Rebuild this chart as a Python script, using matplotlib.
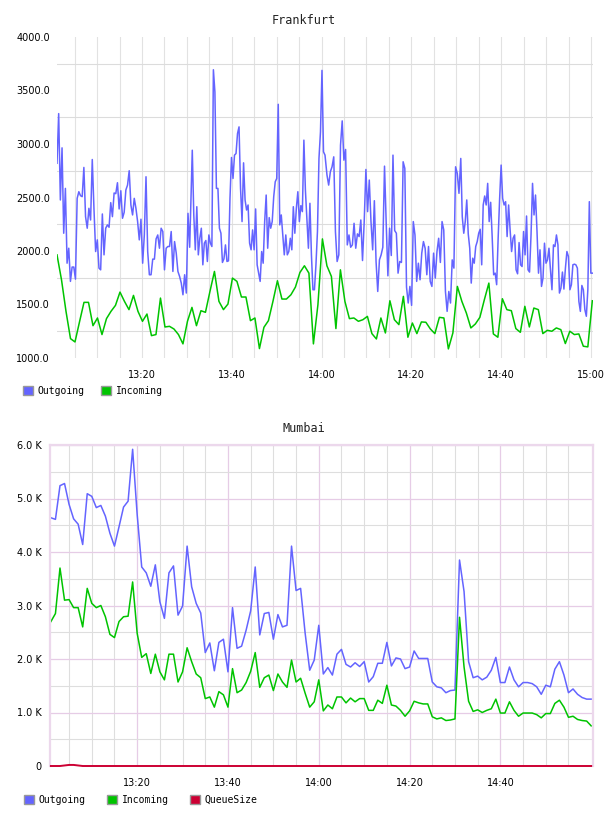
import numpy as np
import matplotlib.pyplot as plt
from matplotlib.patches import Patch
from matplotlib.ticker import FuncFormatter, FixedLocator

# ---- Frankfurt: minutes after 13:00 ----
# outgoing is sampled denser; stored as four half-hour blocks
fra_out_1 = [2820, 3284, 2477, 2964, 2166, 2585, 1886, 2026, 1716, 1850, 1850, 1737, 2492, 2554, 2517, 2508,
             2781, 2321, 2213, 2399, 2290, 2855, 2399, 1995, 2104, 1840, 1824, 2346, 1964, 2213, 2244, 2222,
             2452, 2321, 2542, 2536, 2638, 2393, 2563, 2306, 2362, 2570, 2616, 2750, 2430, 2337, 2492, 2399,
             2275, 2104, 2297, 1886, 2150, 2694, 1995, 1778, 1778, 1924, 1924, 2113, 2150, 2026, 2213, 2182,
             1824, 2026, 2042, 2042, 2182, 1809, 2088, 1980, 1809, 1762, 1700, 1591, 1778, 1607, 2352, 2035]
fra_out_2 = [2942, 2337, 2011, 2414, 1964, 2119, 2213, 1871, 2073, 2098, 1902, 2150, 2073, 2042, 3694, 3486,
             2585, 2585, 2213, 2166, 1893, 1927, 2057, 1902, 1908, 2492, 2874, 2678, 2896, 2911, 3098, 3160,
             2585, 2275, 2824, 2477, 2383, 2430, 2073, 2011, 2197, 2011, 2393, 1871, 1793, 1716, 1995, 1886,
             2275, 2523, 2026, 2312, 2213, 2275, 2508, 2647, 2678, 3371, 2244, 2337, 2150, 1964, 2150, 1964,
             1995, 2119, 2011, 2414, 2166, 2399, 2554, 2275, 2424, 2368, 3036, 2570, 2290, 2026, 2446, 1964,
             1638, 1638, 1871, 2182, 2865, 3113, 3688, 2927, 2896]
fra_out_3 = [2710, 2616, 2741, 2787, 2880, 2181, 1902, 1964, 2989, 3216, 2849, 2949, 2057, 2150, 2035, 2057,
             2259, 2026, 2160, 2135, 2290, 1911, 2275, 2762, 2368, 2663, 2275, 2011, 2470, 1902, 1622, 1917,
             1964, 2035, 2793, 2259, 1768, 2213, 1958, 2896, 2191, 2166, 1793, 1902, 1893, 2834, 2772, 1663,
             1514, 1669, 1492, 2275, 2150, 1716, 1886, 1731, 1980, 2088, 2026, 1778, 2042, 1716, 1669, 1980,
             1747, 1995, 2119, 1893, 2275, 2197, 1622, 1436, 1622, 1514, 1917, 1840, 2787, 2725, 2539]
fra_out_4 = [2865, 2321, 2166, 2275, 2477, 2160, 2026, 1700, 1933, 1886, 2042, 2088, 2166, 2203, 1871, 2430,
             2514, 2430, 2632, 2275, 2455, 2135, 1778, 1793, 1685, 2119, 2492, 2803, 2492, 2430, 2461, 2135,
             2430, 2197, 1995, 2119, 2150, 1824, 1787, 2079, 1871, 1855, 2182, 1964, 2327, 1824, 1803, 2150,
             2632, 2337, 2523, 2182, 1793, 2011, 1669, 1747, 2073, 1886, 1917, 2026, 1824, 1638, 2057, 2042,
             2150, 2057, 1607, 1653, 1803, 1644, 1840, 1995, 1949, 1638, 1685, 1871, 1877, 1871, 1840, 1529,
             1436, 1678, 1638, 1452, 1390, 1638, 2461, 1793, 1793]
fra_blocks = [(1.07, 30.62), (31.2, 60.76), (61.2, 90.6), (91.0, 120.3)]

fra_in = [1964, 1731, 1436, 1181, 1150, 1337, 1520, 1520, 1302, 1374, 1219, 1368, 1436, 1492, 1616,
          1529, 1452, 1585, 1436, 1343, 1411, 1209, 1219, 1560, 1290, 1296, 1271, 1219, 1132, 1343,
          1473, 1302, 1442, 1427, 1622, 1809, 1529, 1452, 1504, 1747, 1716, 1570, 1570, 1349, 1374,
          1088, 1287, 1349, 1529, 1722, 1551, 1551, 1591, 1663, 1799, 1862, 1793, 1132, 1498, 2113,
          1862, 1762, 1275, 1824, 1529, 1368, 1374, 1343, 1358, 1389, 1228, 1178, 1374, 1234, 1535,
          1358, 1312, 1576, 1194, 1327, 1228, 1337, 1334, 1271, 1228, 1380, 1374, 1085, 1234, 1669,
          1529, 1420, 1281, 1318, 1380, 1545, 1700, 1225, 1194, 1554, 1452, 1442, 1275, 1240, 1483,
          1290, 1467, 1452, 1228, 1259, 1250, 1281, 1265, 1135, 1250, 1219, 1225, 1110, 1104, 1535]

# ---- Mumbai: one sample per minute, 13:01 .. 15:00 ----
mum_out = [4640, 4610, 5240, 5280, 4890, 4620, 4520, 4140, 5090, 5040, 4830, 4870, 4670, 4350, 4110,
           4470, 4840, 4950, 5920, 4700, 3720, 3610, 3360, 3760, 3070, 2760, 3610, 3740, 2820, 2990,
           4110, 3350, 3040, 2860, 2120, 2300, 1780, 2310, 2370, 1760, 2960, 2200, 2240, 2540, 2900,
           3720, 2450, 2850, 2870, 2370, 2830, 2600, 2630, 4110, 3280, 3320, 2480, 1790, 1980, 2630,
           1720, 1840, 1700, 2090, 2180, 1900, 1850, 1930, 1860, 1950, 1570, 1670, 1920, 1920, 2310,
           1870, 2020, 2000, 1820, 1850, 2150, 2010, 2010, 2010, 1570, 1480, 1460, 1370, 1410, 1420,
           3850, 3260, 1950, 1650, 1680, 1610, 1660, 1790, 2030, 1560, 1560, 1850, 1610, 1480, 1560,
           1560, 1540, 1480, 1340, 1510, 1480, 1810, 1950, 1700, 1370, 1440, 1340, 1280, 1250, 1250]
mum_in = [2700, 2850, 3700, 3100, 3110, 2960, 2960, 2600, 3320, 3040, 2960, 3000, 2790, 2460, 2400,
          2700, 2790, 2800, 3440, 2480, 2030, 2100, 1730, 2090, 1760, 1610, 2090, 2090, 1570, 1760,
          2210, 1950, 1720, 1650, 1260, 1290, 1100, 1390, 1330, 1100, 1820, 1370, 1420, 1560, 1770,
          2120, 1470, 1650, 1700, 1410, 1720, 1570, 1470, 1980, 1570, 1640, 1360, 1100, 1200, 1610,
          1030, 1140, 1070, 1290, 1290, 1180, 1270, 1200, 1260, 1260, 1040, 1040, 1230, 1170, 1510,
          1140, 1120, 1040, 930, 1030, 1210, 1180, 1160, 1160, 920, 880, 900, 850, 860, 880,
          2780, 1850, 1210, 1020, 1050, 1000, 1040, 1070, 1250, 990, 990, 1200, 1040, 930, 990,
          990, 990, 960, 900, 980, 980, 1170, 1230, 1100, 910, 930, 870, 850, 840, 750]
mum_queue = [0, 0, 0, 10, 20, 20, 10, 0, 0, 0] + [0] * 110

tick_min = [20, 40, 60, 80, 100, 120]
tick_lbl = ["13:20", "13:40", "14:00", "14:20", "14:40", "15:00"]

c_out = "#6464ff"
c_in = "#00c400"
c_q = "#cc0033"
mono = "DejaVu Sans Mono"

W, H = 608, 816
fig = plt.figure(figsize=(W / 100, H / 100), dpi=100)

# ---------- Frankfurt ----------
ax1 = fig.add_axes([57 / W, 1 - 358 / H, (593 - 57) / W, (358 - 37) / H])
out_blocks = [fra_out_1, fra_out_2, fra_out_3, fra_out_4]
fra_out = fra_out_1 + fra_out_2 + fra_out_3 + fra_out_4
fra_t = np.concatenate([np.linspace(t0, t1, len(v)) for v, (t0, t1) in zip(out_blocks, fra_blocks)])
ax1.plot(fra_t, fra_out, color=c_out, lw=1.1)
ax1.plot(np.linspace(1.07, 120.3, len(fra_in)), fra_in, color=c_in, lw=1.1)
ax1.set_xlim(1.07, 120.45)
ax1.set_ylim(1000, 4000)
ax1.set_xticks(tick_min)
ax1.set_xticklabels(tick_lbl)
ax1.xaxis.set_minor_locator(FixedLocator(np.arange(5, 121, 5)))
ax1.set_yticks(np.arange(1000, 4001, 500))
ax1.yaxis.set_major_formatter(FuncFormatter(lambda v, p: f"{v:.1f}"))
ax1.yaxis.set_minor_locator(FixedLocator(np.arange(1250, 4000, 500)))
ax1.xaxis.grid(True, which="both", color="#e2e2e2", lw=0.8)
ax1.yaxis.grid(True, which="minor", color="#dcdcdc", lw=0.8)
ax1.yaxis.grid(False, which="major")
ax1.set_axisbelow(True)
for s in ax1.spines.values():
    s.set_visible(False)
ax1.tick_params(which="both", length=0, labelsize=7)
ax1.tick_params(axis="x", pad=9)
ax1.tick_params(axis="y", pad=5)
fig.text(304 / W, 1 - 20 / H, "Frankfurt", ha="center", va="center",
         family=mono, fontsize=8.5, color="#222222")
fig.legend([Patch(facecolor=c_out, edgecolor="#999999"), Patch(facecolor=c_in, edgecolor="#999999")],
           ["Outgoing", "Incoming"], loc="center left", bbox_to_anchor=(23 / W, 1 - 391 / H),
           ncol=2, frameon=False, prop={"family": mono, "size": 7}, handlelength=1.0,
           handleheight=1.0, handletextpad=0.5, columnspacing=1.7, borderpad=0, borderaxespad=0)

# ---------- Mumbai ----------
ax2 = fig.add_axes([50 / W, 1 - 766 / H, (593 - 50) / W, (766 - 445) / H])
mum_t = np.arange(1, 121)
ax2.plot(mum_t, mum_out, color=c_out, lw=1.1)
ax2.plot(mum_t, mum_in, color=c_in, lw=1.1)
ax2.plot(mum_t, mum_queue, color=c_q, lw=1.4, clip_on=False, zorder=5)
ax2.set_xlim(0.8, 120.4)
ax2.set_ylim(0, 6000)
ax2.set_xticks(tick_min[:-1])
ax2.set_xticklabels(tick_lbl[:-1])
ax2.xaxis.set_minor_locator(FixedLocator(np.arange(5, 120, 5)))
ax2.set_yticks(np.arange(0, 6001, 1000))
ax2.yaxis.set_major_formatter(FuncFormatter(lambda v, p: "0" if v == 0 else f"{v / 1000:.1f} K"))
ax2.yaxis.set_minor_locator(FixedLocator(np.arange(500, 6000, 1000)))
ax2.grid(True, which="major", color="#e6cce6", lw=0.9)
ax2.grid(True, which="minor", color="#dedede", lw=0.8)
ax2.set_axisbelow(True)
for s in ax2.spines.values():
    s.set_color("#ecd8ec")
    s.set_linewidth(1.6)
ax2.spines["bottom"].set_visible(False)
ax2.tick_params(which="both", length=0, labelsize=7)
ax2.tick_params(axis="x", pad=9)
ax2.tick_params(axis="y", pad=6)
fig.text(304 / W, 1 - 428 / H, "Mumbai", ha="center", va="center",
         family=mono, fontsize=8.5, color="#222222")
fig.legend([Patch(facecolor=c_out, edgecolor="#999999"), Patch(facecolor=c_in, edgecolor="#999999"),
            Patch(facecolor=c_q, edgecolor="#999999")],
           ["Outgoing", "Incoming", "QueueSize"], loc="center left",
           bbox_to_anchor=(24 / W, 1 - 800 / H), ncol=3, frameon=False,
           prop={"family": mono, "size": 7}, handlelength=1.0, handleheight=1.0,
           handletextpad=0.5, columnspacing=2.2, borderpad=0, borderaxespad=0)

fig.savefig("out.png", dpi=100)
